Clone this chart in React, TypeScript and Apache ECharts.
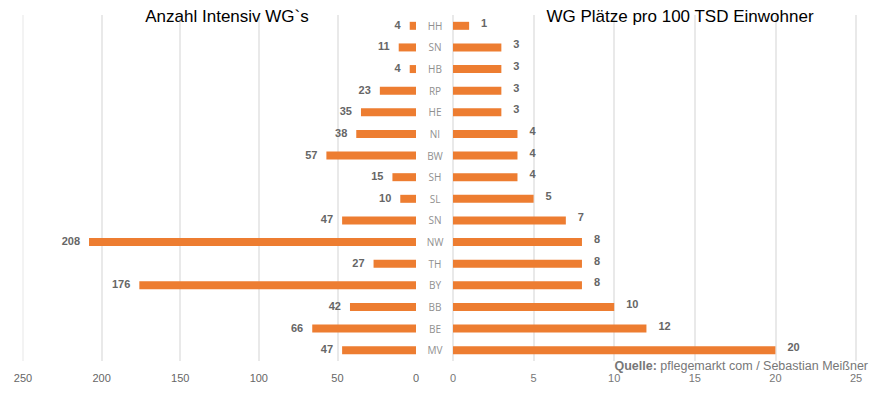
import React, { useEffect, useRef } from "react";
import * as echarts from "echarts";

const categories = ["HH", "SN", "HB", "RP", "HE", "NI", "BW", "SH", "SL", "SN", "NW", "TH", "BY", "BB", "BE", "MV"];
const intensivWGs = [4, 11, 4, 23, 35, 38, 57, 15, 10, 47, 208, 27, 176, 42, 66, 47];
const plaetzePro100k = [1, 3, 3, 3, 3, 4, 4, 4, 5, 7, 8, 8, 8, 10, 12, 20];
const leftTitle = "Anzahl Intensiv WG`s";
const rightTitle = "WG Plätze pro 100 TSD Einwohner";

export default function App() {
  const ref = useRef<HTMLDivElement>(null);
  useEffect(() => {
    if (!ref.current) return;
    const chart = echarts.init(ref.current, null, { renderer: "svg" });
    const grid = "#e2e2e2";
    const font = "Liberation Sans";
    chart.setOption({
      animation: false,
      backgroundColor: "#ffffff",
      grid: [
        { left: 23, right: 462, top: 15, bottom: 32 },
        { left: 453, right: 22, top: 15, bottom: 32 },
      ],
      xAxis: [
        {
          gridIndex: 0,
          type: "value",
          inverse: true,
          min: 0,
          max: 250,
          interval: 50,
          axisLine: { show: false },
          axisTick: { show: false },
          axisLabel: { color: "#666", fontSize: 11, fontFamily: font, margin: 11 },
          splitLine: {
            lineStyle: { color: ["rgba(0,0,0,0)", grid, grid, grid, grid, "#efefef"], width: 1.5 },
          },
        },
        {
          gridIndex: 1,
          type: "value",
          min: 0,
          max: 25,
          interval: 5,
          axisLine: { show: false },
          axisTick: { show: false },
          axisLabel: { color: "#777", fontSize: 11, fontFamily: font, margin: 11 },
          splitLine: { lineStyle: { color: grid, width: 1.5 } },
        },
      ],
      yAxis: [
        {
          gridIndex: 0,
          type: "category",
          inverse: true,
          data: categories,
          axisLine: { show: false },
          axisTick: { show: false },
          axisLabel: { show: false },
        },
        {
          gridIndex: 1,
          type: "category",
          inverse: true,
          data: categories,
          axisLine: { show: false },
          axisTick: { show: false },
          axisLabel: {
            color: "#909090",
            fontSize: 10,
            fontFamily: "Open Sans",
            align: "center",
            margin: 18,
          },
        },
      ],
      series: [
        {
          type: "bar",
          xAxisIndex: 0,
          yAxisIndex: 0,
          data: intensivWGs,
          barWidth: 8,
          itemStyle: { color: "#ed7d31" },
          label: {
            show: true,
            position: "left",
            distance: 9,
            offset: [0, -1],
            color: "#666",
            fontSize: 11,
            fontWeight: "bold",
            fontFamily: font,
          },
        },
        {
          type: "bar",
          xAxisIndex: 1,
          yAxisIndex: 1,
          data: plaetzePro100k,
          barWidth: 8,
          itemStyle: { color: "#ed7d31" },
          label: {
            show: true,
            position: "right",
            distance: 12,
            offset: [0, -3],
            color: "#666",
            fontSize: 11,
            fontWeight: "bold",
            fontFamily: font,
          },
        },
      ],
      graphic: [
        {
          type: "text",
          x: 227,
          y: 16,
          style: {
            text: leftTitle,
            fill: "#000",
            fontSize: 17,
            fontFamily: font,
            align: "center",
            verticalAlign: "middle",
          },
          z: 10,
        },
        {
          type: "text",
          x: 680,
          y: 16,
          style: {
            text: rightTitle,
            fill: "#000",
            fontSize: 17,
            fontFamily: font,
            align: "center",
            verticalAlign: "middle",
          },
          z: 10,
        },
        {
          type: "text",
          x: 868,
          y: 366,
          style: {
            text: "{b|Quelle:} pflegemarkt com / Sebastian Meißner",
            fill: "#777",
            fontSize: 12.5,
            fontFamily: font,
            align: "right",
            verticalAlign: "middle",
            rich: {
              b: { fontWeight: "bold", fill: "#777", fontSize: 12.5, fontFamily: font },
            },
          },
          z: 10,
        },
      ],
    });
    return () => chart.dispose();
  }, []);
  return (
    <div
      ref={ref}
      style={{ position: "fixed", left: 0, top: 0, width: 878, height: 393 }}
    />
  );
}
